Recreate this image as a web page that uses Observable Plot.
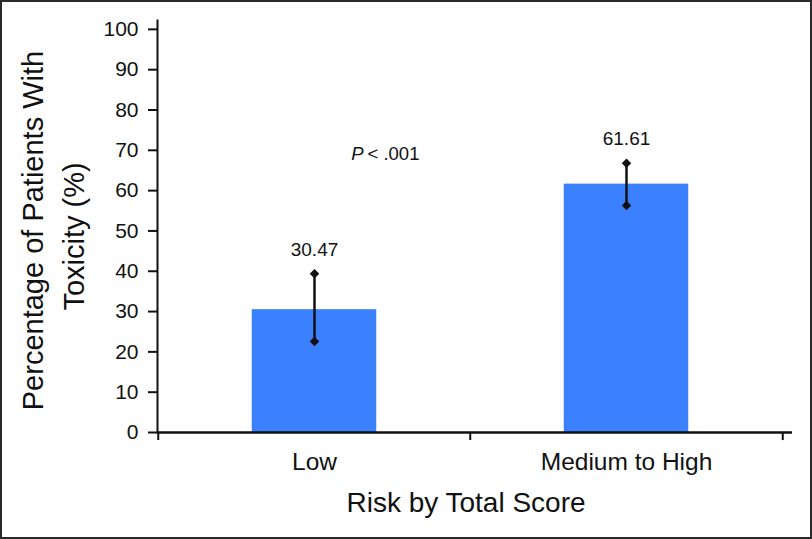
<!DOCTYPE html>
<html>
<head>
<meta charset="utf-8">
<script src="https://cdn.jsdelivr.net/npm/d3@7"></script>
<script src="https://cdn.jsdelivr.net/npm/@observablehq/plot@0.6"></script>
<style>
html, body { margin: 0; padding: 0; background: #fff; }
#chart svg { display: block; outline: 2px solid #2a2a2a; outline-offset: -2px; }
</style>
</head>
<body>
<div id="chart"></div>
<script>
const categories = ["Low", "Medium to High"];
const values = [30.47, 61.61];
const errLow = [22.6, 56.3];
const errHigh = [39.4, 66.8];
const valueLabels = ["30.47", "61.61"];
const yTicks = [0, 10, 20, 30, 40, 50, 60, 70, 80, 90, 100];
const yTitleLines = ["Percentage of Patients With", "Toxicity (%)"];
const xTitle = "Risk by Total Score";
const pText = ["P", "< .001"];
const pValueY = 69;

const data = categories.map((c, i) => ({cat: c, value: values[i], lo: errLow[i], hi: errHigh[i], label: valueLabels[i]}));

const font = "'Liberation Sans', Arial, Helvetica, sans-serif";
const half = 312.5 / 2;
const ink = "#111";

const chart = Plot.plot({
  width: 812,
  height: 539,
  marginLeft: 157,
  marginRight: 20,
  marginTop: 20,
  marginBottom: 107,
  style: {fontFamily: font, color: ink, background: "#fff", overflow: "visible"},
  x: {domain: categories, range: [157, 782], padding: 0},
  y: {domain: [0, 102.2]},
  marks: [
    Plot.barY(data, {x: "cat", y: "value", fill: "#3a80ff", insetLeft: 93.75, insetRight: 93.75}),
    Plot.frame({anchor: "left", stroke: ink, strokeWidth: 2}),
    Plot.ruleY([0], {stroke: ink, strokeWidth: 2.5}),
    Plot.ruleX(categories, {x: d => d, dx: -half, y1: 0, y2: -2, stroke: ink, strokeWidth: 2}),
    Plot.ruleX(categories.slice(-1), {x: d => d, dx: half, y1: 0, y2: -2, stroke: ink, strokeWidth: 2}),
    Plot.axisY({ticks: yTicks, tickSize: 9, tickPadding: 10, fontSize: 21, label: null, stroke: ink, strokeWidth: 2, tickFormat: d => String(d)}),
    Plot.axisX({tickSize: 0, tickPadding: 20.5, fontSize: 24.5, label: null}),
    Plot.ruleX(data, {x: "cat", y1: "lo", y2: "hi", stroke: ink, strokeWidth: 2.5}),
    Plot.dot(data, {x: "cat", y: "lo", symbol: "diamond2", r: 4.3, fill: ink, stroke: "none"}),
    Plot.dot(data, {x: "cat", y: "hi", symbol: "diamond2", r: 4.3, fill: ink, stroke: "none"}),
    Plot.text(data, {x: "cat", y: "hi", text: "label", dy: -24, fontSize: 19, lineAnchor: "middle", fill: ink}),
    Plot.text([pText[0]], {x: () => categories[0], y: () => pValueY, text: d => d, dx: 49, textAnchor: "end", fontSize: 18.5, fontStyle: "italic", lineAnchor: "middle", fill: ink}),
    Plot.text([pText[1]], {x: () => categories[0], y: () => pValueY, text: d => d, dx: 53, textAnchor: "start", fontSize: 18.5, lineAnchor: "middle", fill: ink}),
    Plot.text([yTitleLines[0]], {frameAnchor: "left", textAnchor: "middle", text: d => d, rotate: -90, dx: -115, dy: 4, lineAnchor: "bottom", fontSize: 29, fill: ink}),
    Plot.text([yTitleLines[1]], {frameAnchor: "left", textAnchor: "middle", text: d => d, rotate: -90, dx: -74, dy: 10, lineAnchor: "bottom", fontSize: 29, fill: ink}),
    Plot.text([xTitle], {frameAnchor: "bottom", textAnchor: "middle", text: d => d, dx: -9, dy: 79, lineAnchor: "bottom", fontSize: 28, fill: ink})
  ]
});
document.getElementById("chart").appendChild(chart);
</script>
</body>
</html>
